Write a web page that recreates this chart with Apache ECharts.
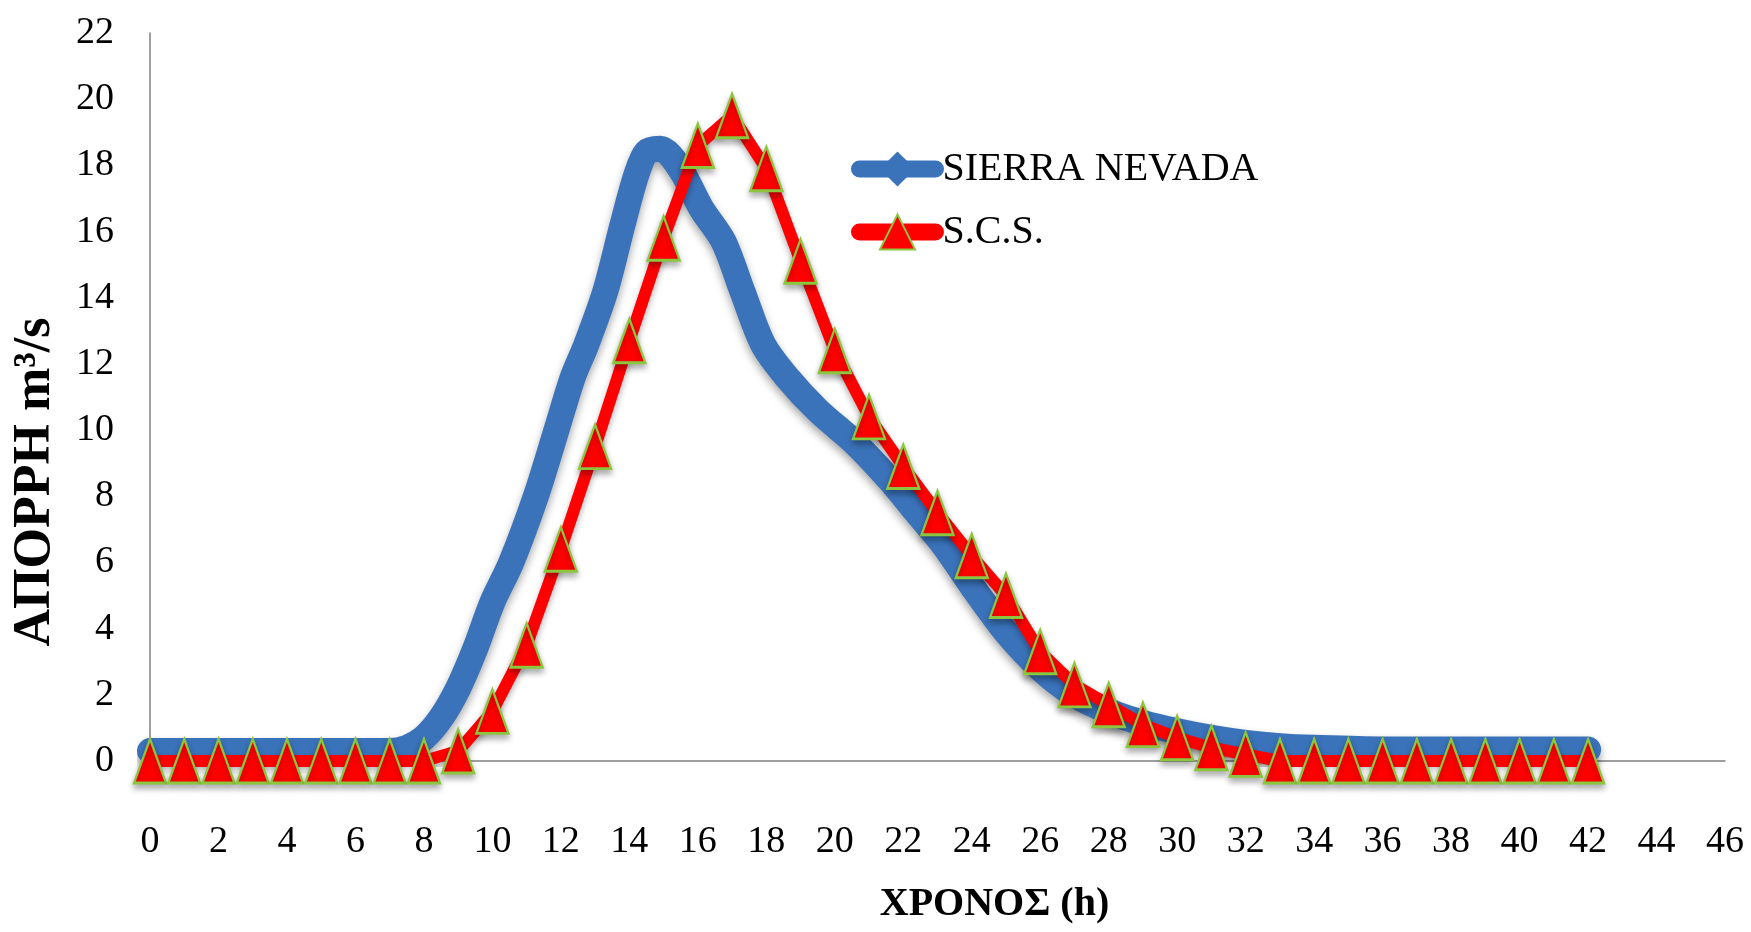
<!DOCTYPE html>
<html>
<head>
<meta charset="utf-8">
<script src="https://cdn.jsdelivr.net/npm/echarts@6/dist/echarts.min.js"></script>
<style>
html,body{margin:0;padding:0;background:#fff;}
#chart{width:1751px;height:932px;}
</style>
</head>
<body>
<div id="chart"></div>
<script>
// ---- data ----
const seriesNames = ['SIERRA NEVADA', 'S.C.S.'];
const xTitle = 'ΧΡΟΝΟΣ (h)';
const yTitle = 'ΑΠΟΡΡΗ m³/s';

// SIERRA NEVADA hydrograph (time h, discharge m3/s)
const sierraHours = [0, 7, 7.5, 8, 8.5, 9, 9.5, 10, 10.55, 11.27, 11.9, 12.35, 12.75, 13.3, 13.8, 14.2, 14.5, 14.9, 15.2, 15.6, 16.1, 16.75, 17.3, 17.9, 18.6, 19.5, 20.6, 21.6, 22.4, 23.2, 24, 25, 26, 27, 28, 29, 30, 31, 32, 33, 34, 36, 38, 40, 42];
const sierraFlow  = [0.3, 0.3, 0.4, 0.7, 1.3, 2.2, 3.4, 4.8, 6.0, 8.0, 10.1, 11.6, 12.6, 14.2, 16.2, 17.7, 18.4, 18.5, 18.3, 17.7, 16.7, 15.7, 14.2, 12.6, 11.6, 10.6, 9.6, 8.5, 7.5, 6.5, 5.3, 3.9, 2.8, 2.0, 1.5, 1.15, 0.9, 0.7, 0.55, 0.45, 0.4, 0.35, 0.35, 0.35, 0.35];

// S.C.S. hydrograph, hourly 0..42
const scsHours = [0,1,2,3,4,5,6,7,8,9,10,11,12,13,14,15,16,17,18,19,20,21,22,23,24,25,26,27,28,29,30,31,32,33,34,35,36,37,38,39,40,41,42];
const scsFlow  = [0,0,0,0,0,0,0,0,0,0.3,1.5,3.5,6.4,9.5,12.7,15.8,18.6,19.5,17.9,15.1,12.4,10.4,8.9,7.5,6.2,5.0,3.3,2.3,1.7,1.1,0.7,0.4,0.2,0,0,0,0,0,0,0,0,0,0];

const xMin = 0, xMax = 46, xStep = 2;
const yMin = 0, yMax = 22, yStep = 2;

// ---- chart ----
const FONT = 'Liberation Serif';
const pairs = (xs, ys) => xs.map((x, i) => [x, ys[i]]);

const chart = echarts.init(document.getElementById('chart'), null, {renderer: 'canvas'});
chart.setOption({
  backgroundColor: '#ffffff',
  animation: false,
  grid: {left: 150, right: 26, top: 33, bottom: 171, containLabel: false},
  legend: {
    orient: 'vertical',
    left: 846,
    top: 144,
    itemWidth: 76,
    itemHeight: 44,
    itemGap: 23,
    data: seriesNames,
    lineStyle: {width: 17, cap: 'round'},
    textStyle: {fontFamily: FONT, fontSize: 40, color: '#000', padding: [0, 0, 0, 2]}
  },
  xAxis: {
    type: 'value',
    min: xMin, max: xMax, interval: xStep,
    name: xTitle,
    nameLocation: 'middle',
    nameGap: 124,
    nameTextStyle: {fontFamily: FONT, fontSize: 40, fontWeight: 'bold', color: '#000', padding: [0, 0, 0, 114]},
    axisLine: {show: true, lineStyle: {color: '#808080', width: 1.5}},
    axisTick: {show: false},
    splitLine: {show: false},
    axisLabel: {fontFamily: FONT, fontSize: 38, color: '#000', margin: 62}
  },
  yAxis: {
    type: 'value',
    min: yMin, max: yMax, interval: yStep,
    name: yTitle,
    nameLocation: 'middle',
    nameGap: 88,
    nameTextStyle: {fontFamily: FONT, fontSize: 52, fontWeight: 'bold', color: '#000', padding: [0, 170, 0, 0]},
    axisLine: {show: true, lineStyle: {color: '#808080', width: 1.5}},
    axisTick: {show: false},
    splitLine: {show: false},
    axisLabel: {fontFamily: FONT, fontSize: 38, color: '#000', margin: 36}
  },
  series: [
    {
      name: seriesNames[0],
      type: 'line',
      data: pairs(sierraHours, sierraFlow),
      smooth: 0.3,
      symbol: 'diamond',
      symbolSize: 26,
      showSymbol: true,
      itemStyle: {color: '#3b73bb'},
      lineStyle: {color: '#3b73bb', width: 26, cap: 'round', join: 'round',
        shadowColor: 'rgba(0,0,0,0.35)', shadowBlur: 8, shadowOffsetY: 5},
      z: 2
    },
    {
      name: seriesNames[1],
      type: 'line',
      data: pairs(scsHours, scsFlow),
      smooth: false,
      symbol: 'triangle',
      symbolSize: [32, 44],
      showSymbol: true,
      itemStyle: {color: '#ff0000', borderColor: '#8cc63f', borderWidth: 2.5,
        shadowColor: 'rgba(0,0,0,0.3)', shadowBlur: 6, shadowOffsetY: 4},
      lineStyle: {color: '#ff0000', width: 12, cap: 'round', join: 'round',
        shadowColor: 'rgba(0,0,0,0.3)', shadowBlur: 6, shadowOffsetY: 4},
      z: 3
    }
  ]
});
</script>
</body>
</html>
